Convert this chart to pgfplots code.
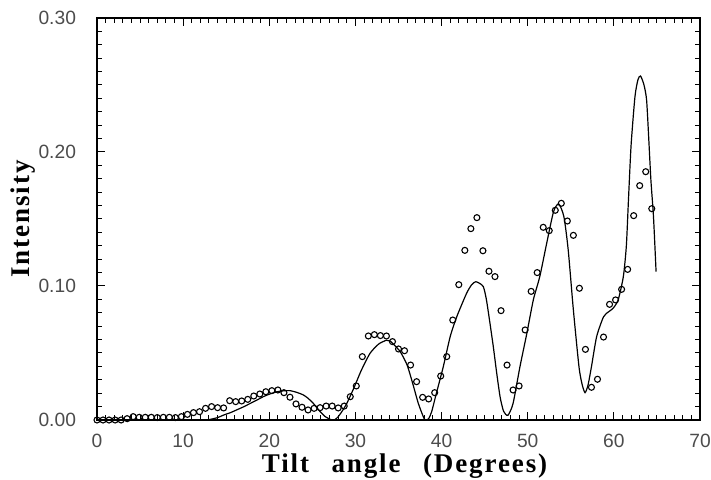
\documentclass[border=0pt]{standalone}
\usepackage{fontspec}
\setmainfont{Liberation Serif}
\newfontfamily\labelserif[LetterSpace=7,WordSpace=2.6]{Liberation Serif}
\newfontfamily\ticksans{Liberation Sans}
\usepackage{pgfplots}
\pgfplotsset{compat=1.18}

\begin{document}
\begin{tikzpicture}
\useasboundingbox (-48.5pt,-30pt) rectangle (307pt,210pt);
\begin{axis}[
  scale only axis,
  width=301.5pt, height=201pt,
  xmin=0, xmax=70, ymin=0, ymax=0.30,
  xtick={0,10,...,70},
  ytick={0,0.1,0.2,0.3},
  minor tick num=9,
  tick align=inside,
  major tick length=4pt,
  minor tick length=2.3pt,
  axis line style={line width=0.6pt},
  tick style={line width=0.5pt, black},
  ticklabel style={font=\ticksans\fontsize{9.6}{11}\selectfont, text=black!70},
  xticklabel style={yshift=-3.5pt},
  yticklabel style={xshift=-7pt},
  /pgf/number format/assume math mode=true,
  yticklabel style={/pgf/number format/fixed, /pgf/number format/fixed zerofill, /pgf/number format/precision=2},
  scaled y ticks=false,
  xlabel={Tilt angle (Degrees)},
  ylabel={Intensity},
  label style={font=\labelserif\bfseries\fontsize{13.5}{15}\selectfont},
  xlabel style={at={(axis description cs:0.51,-0.1318)}, anchor=base},
  ylabel style={at={(axis description cs:-0.112,0.5)}, anchor=base},
  clip=false,
]
\addplot[black, line width=0.6pt, smooth, tension=0.4] coordinates {
(0,0)(5,0)(10,0)(12,0)(13,0.0003)(14,0.0018)(14.7,0.0037)(15.5,0.0055)(16.2,0.0075)
(17,0.0098)(17.8,0.0124)(18.6,0.015)(19.3,0.0174)(20.1,0.0195)(20.9,0.0211)(21.7,0.0218)
(22.4,0.0219)(23.2,0.0206)(23.95,0.0187)(24.5,0.0162)(25.1,0.0125)(25.8,0.007)(26.5,0.0025)
(27.2,0.0002)(27.6,0.0002)(28.0,0.0025)(28.5,0.007)(29.0,0.0124)(29.8,0.0236)(30.7,0.0373)
(31.7,0.0498)(32.7,0.0567)(33.6,0.0595)(34.0,0.059)(34.4,0.0567)(35.2,0.051)(36.0,0.041)
(36.7,0.0261)(37.3,0.0124)(37.96,0.0012)(38.2,0.0)(38.5,0.001)(38.85,0.0062)(39.4,0.02)
(40.2,0.0398)(41.0,0.0622)(41.76,0.077)(42.9,0.0945)(43.5,0.101)(43.96,0.1032)(44.4,0.102)
(44.85,0.0995)(45.2,0.09)(45.6,0.073)(46.0,0.055)(46.4,0.035)(46.8,0.017)(47.2,0.0065)
(47.7,0.0035)(48.3,0.0124)(49.1,0.0398)(49.9,0.0647)(50.65,0.0896)(51.4,0.107)(52.2,0.1318)
(53.0,0.1555)(53.6,0.1612)(54.2,0.1517)(54.7,0.1269)(55.3,0.0821)(55.95,0.0398)(56.3,0.027)
(56.65,0.0204)(57.0,0.026)(57.4,0.0398)(58.0,0.0622)(58.8,0.077)(59.4,0.0808)(59.9,0.0833)
(60.5,0.0896)(61.1,0.107)(61.45,0.13)(61.7,0.165)(62.0,0.205)(62.45,0.2413)(62.8,0.254)
(63.1,0.2567)(63.5,0.250)(63.8,0.2388)(64.05,0.21)(64.3,0.179)(64.6,0.1517)(64.9,0.1107)
};
\addplot[only marks, mark=o, mark size=1.5pt, mark options={line width=0.55pt, black}] coordinates {
(0.0,0.000)(0.7,0.000)(1.4,0.000)(2.1,0.000)(2.8,0.000)(3.5,0.001)(4.2,0.0025)(4.9,0.002)
(5.6,0.002)(6.3,0.002)(7.0,0.0018)(7.7,0.002)(8.4,0.002)(9.1,0.0018)(9.8,0.0025)(10.5,0.0042)
(11.2,0.0055)(11.9,0.0062)(12.6,0.0087)(13.3,0.010)(14.0,0.0092)(14.7,0.009)(15.4,0.0144)
(16.1,0.0137)(16.8,0.0142)(17.5,0.0154)(18.2,0.0179)(18.9,0.0194)(19.6,0.0211)(20.3,0.0219)
(21.0,0.0224)(21.7,0.0204)(22.4,0.017)(23.1,0.012)(23.8,0.0095)(24.5,0.0075)(25.2,0.0087)
(25.9,0.0092)(26.6,0.0104)(27.3,0.0104)(28.0,0.009)(28.7,0.0104)(29.4,0.0174)(30.1,0.0254)
(30.8,0.0473)(31.5,0.0627)(32.2,0.0637)(32.9,0.063)(33.6,0.0627)(34.3,0.0585)(35.0,0.053)
(35.7,0.0517)(36.4,0.041)(37.1,0.0286)(37.8,0.0169)(38.5,0.0157)(39.2,0.0204)(39.9,0.0328)
(40.6,0.0473)(41.3,0.0746)(42.0,0.101)(42.7,0.1266)(43.4,0.1428)(44.1,0.151)(44.8,0.1263)
(45.5,0.111)(46.2,0.107)(46.9,0.0816)(47.6,0.041)(48.3,0.0224)(49.0,0.0254)(49.7,0.0672)
(50.4,0.096)(51.1,0.110)(51.8,0.1438)(52.5,0.1413)(53.2,0.1565)(53.9,0.1617)(54.6,0.1485)
(55.3,0.1378)(56.0,0.0983)(56.7,0.0527)(57.4,0.0244)(58.1,0.0304)(58.8,0.0619)(59.5,0.0863)
(60.2,0.0896)(60.9,0.0975)(61.6,0.1124)(62.3,0.1525)(63.0,0.1749)(63.7,0.1853)(64.4,0.1577)
};
\end{axis}
\end{tikzpicture}
\end{document}
